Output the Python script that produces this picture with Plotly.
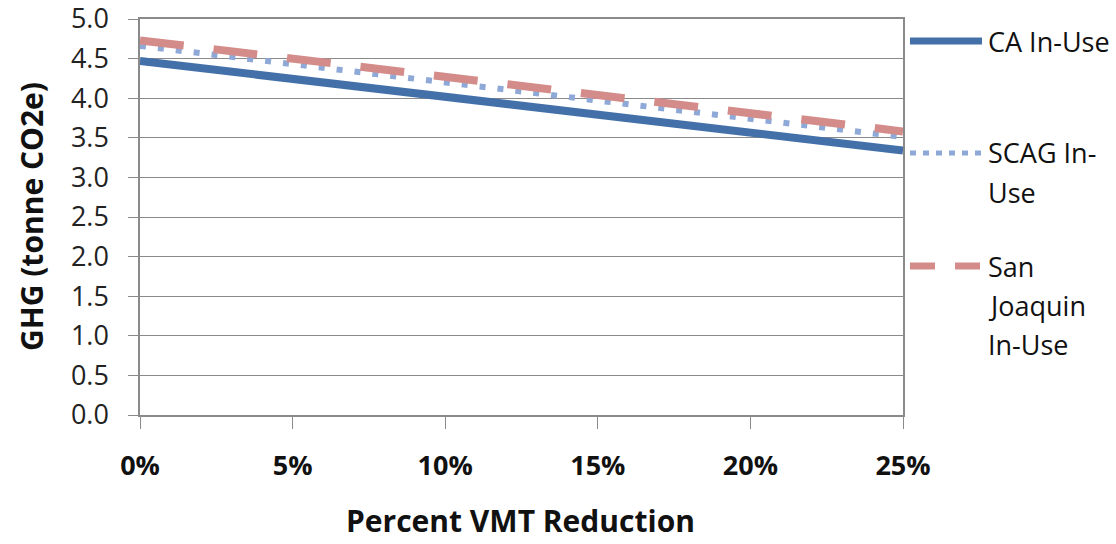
import plotly.graph_objects as go

# VMT reduction (%) and in-use GHG per series (tonne CO2e)
vmt_reduction = [0, 5, 10, 15, 20, 25]
ca_in_use = [4.47, 4.24, 4.02, 3.79, 3.56, 3.34]
scag_in_use = [4.66, 4.43, 4.20, 3.97, 3.74, 3.51]
sj_in_use = [4.73, 4.50, 4.27, 4.04, 3.81, 3.58]

series_names = ["CA In-Use", "SCAG In-Use", "San Joaquin In-Use"]
legend_lines = [["CA In-Use"], ["SCAG In-", "Use"], ["San", "Joaquin", "In-Use"]]
x_tick_vals = [0, 5, 10, 15, 20, 25]
x_tick_text = ["0%", "5%", "10%", "15%", "20%", "25%"]
y_tick_vals = [0.0, 0.5, 1.0, 1.5, 2.0, 2.5, 3.0, 3.5, 4.0, 4.5, 5.0]
x_title = "Percent VMT Reduction"
y_title = "GHG (tonne CO2e)"

colors = ["#4470AA", "#8EA9D7", "#D48C8A"]
widths = [8, 6, 8]
dashes = ["solid", "6px,12px", "44px,30px"]
legend_dashes = ["solid", "6px,7px", "25px,20px"]

FONT = "Open Sans"
GRID = "#8A8A8A"
TEXT = "#111111"

fig = go.Figure()
for name, ys, c, w, d in zip(series_names, [ca_in_use, scag_in_use, sj_in_use],
                             colors, widths, dashes):
    fig.add_trace(go.Scatter(
        x=vmt_reduction, y=ys, name=name, mode="lines",
        line=dict(color=c, width=w, dash=d),
        showlegend=False,
    ))

# Pixel -> paper helpers for the fixed-size canvas
W, H = 1116, 544
ml, mr, mt, mb = 140, 213, 19, 129
pw, ph = W - ml - mr, H - mt - mb

def px_x(px):
    return (px - ml) / pw

def px_y(py):
    return (H - mb - py) / ph

# Side legend: sample line + wrapped label, one entry per series
entry_y = [41, 153, 266]
line_gap = 39
for i, lines in enumerate(legend_lines):
    yy = px_y(entry_y[i])
    fig.add_shape(type="line", xref="paper", yref="paper",
                  x0=px_x(910), x1=px_x(982), y0=yy, y1=yy,
                  line=dict(color=colors[i], width=widths[i] - 1, dash=legend_dashes[i]))
    for j, t in enumerate(lines):
        fig.add_annotation(xref="paper", yref="paper",
                           x=px_x(986), y=px_y(entry_y[i] + j * line_gap),
                           xanchor="left", yanchor="middle", showarrow=False,
                           text=t, font=dict(family=FONT, size=27, color=TEXT))

# Axis titles
fig.add_annotation(xref="paper", yref="paper", x=px_x(520), y=px_y(543),
                   xanchor="center", yanchor="bottom", showarrow=False,
                   text=f"<b>{x_title}</b>", font=dict(family=FONT, size=30, color=TEXT))
fig.add_annotation(xref="paper", yref="paper", x=px_x(31), y=px_y(217),
                   xanchor="center", yanchor="middle", showarrow=False, textangle=-90,
                   text=f"<b>{y_title}</b>", font=dict(family=FONT, size=30, color=TEXT))

fig.update_layout(
    width=W, height=H,
    margin=dict(l=ml, r=mr, t=mt, b=mb),
    paper_bgcolor="white", plot_bgcolor="white",
    font=dict(family=FONT, color=TEXT),
    xaxis=dict(
        range=[0, 25], tickvals=x_tick_vals, ticktext=x_tick_text,
        automargin=False,
        showgrid=False, zeroline=False,
        showline=True, linecolor=GRID, linewidth=1.5, mirror=True,
        ticks="outside", ticklen=12, tickcolor=GRID, tickwidth=1,
        ticklabelstandoff=14,
        tickfont=dict(family=FONT, size=27, color=TEXT, weight="bold"),
    ),
    yaxis=dict(
        range=[0, 5], tickvals=y_tick_vals, tickformat=".1f",
        automargin=False, ticklabeloverflow="allow",
        showgrid=True, gridcolor=GRID, gridwidth=1, zeroline=False,
        showline=True, linecolor=GRID, linewidth=1.5, mirror=True,
        ticks="outside", ticklen=10, tickcolor=GRID, tickwidth=1,
        ticklabelstandoff=14,
        tickfont=dict(family=FONT, size=27, color="#222222"),
    ),
)

fig.write_html("out.html")
